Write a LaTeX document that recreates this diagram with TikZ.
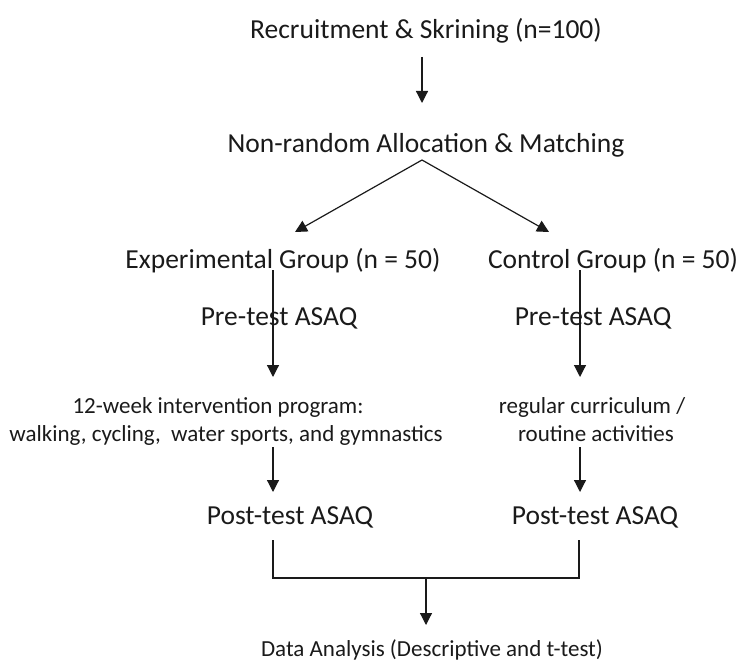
\documentclass[tikz,border=0pt]{standalone}
\usepackage{fontspec}
\setmainfont{Carlito}
\usetikzlibrary{arrows.meta}
\definecolor{ink}{HTML}{1A1A1A}
\tikzset{
  big/.style={anchor=base, inner sep=0pt, text=ink, font=\fontsize{27.5}{33}\selectfont},
  small/.style={anchor=base, inner sep=0pt, text=ink, font=\fontsize{23}{28}\selectfont},
  conn/.style={draw=ink, line width=1.2pt},
  arr/.style={conn, -{Triangle[width=12pt,length=12pt]}}
}
\begin{document}
\begin{tikzpicture}[x=1pt,y=-1pt]
\useasboundingbox (0,0) rectangle (741,663);
\node[big] (rec) at (426,38.5) {Recruitment \& Skrining (n=100)};
\node[big] (alloc) at (426,152.5) {Non-random Allocation \& Matching};
\node[big] (exp) at (283,268) {Experimental Group (n = 50)};
\node[big] (ctl) at (613,268) {Control Group (n = 50)};
\node[big] (preE) at (279,325) {Pre-test ASAQ};
\node[big] (preC) at (593,325) {Pre-test ASAQ};
\node[small] (intA) at (218,413) {12-week intervention program:};
\node[small] (intB) at (226,441) {walking, cycling,\ \ water sports, and gymnastics};
\node[small] (regA) at (592,413) {regular curriculum /};
\node[small] (regB) at (596,441) {routine activities};
\node[big] (postE) at (290,524) {Post-test ASAQ};
\node[big] (postC) at (595,524) {Post-test ASAQ};
\node[small] (data) at (432,656.5) {Data Analysis (Descriptive and t-test)};

\coordinate (a1s) at (422,57);
\coordinate (a1e) at (422,103);
\coordinate (apex) at (422,160);
\coordinate (tipE) at (295,232);
\coordinate (tipC) at (549,232);
\coordinate (lE1) at (273,270);
\coordinate (lE2) at (273,377);
\coordinate (lC1) at (580,270);
\coordinate (lC2) at (580,377);
\coordinate (mE1) at (273,447);
\coordinate (mE2) at (273,492);
\coordinate (mC1) at (580,447);
\coordinate (mC2) at (580,492);
\coordinate (bE) at (273,540);
\coordinate (bC) at (579,540);
\coordinate (bJ) at (426,578);
\coordinate (dTip) at (426,625);

\draw[arr] (a1s) -- (a1e);
\draw[arr] (apex) -- (tipE);
\draw[arr] (apex) -- (tipC);
\draw[arr] (lE1) -- (lE2);
\draw[arr] (lC1) -- (lC2);
\draw[arr] (mE1) -- (mE2);
\draw[arr] (mC1) -- (mC2);
\draw[conn] (bE) |- (bJ) -| (bC);
\draw[arr] (bJ) -- (dTip);
\end{tikzpicture}
\end{document}
